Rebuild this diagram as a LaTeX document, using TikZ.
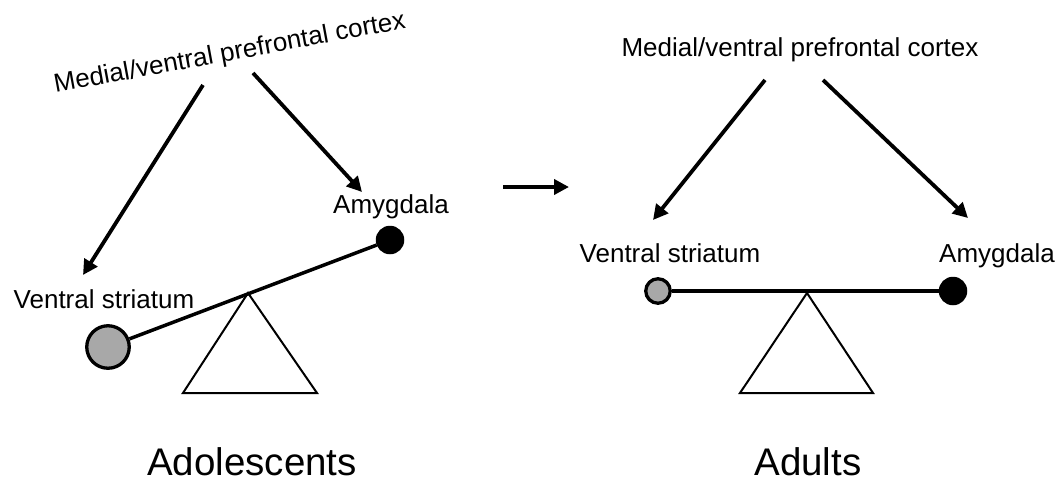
\documentclass[tikz,border=0pt]{standalone}
\usepackage{fontspec}
\setmainfont{Liberation Sans}
\usetikzlibrary{arrows.meta}
\begin{document}
\begin{tikzpicture}[x=1pt,y=-1pt,
  lbl/.style={inner sep=0pt,anchor=base,font=\fontsize{26}{30}\selectfont},
  big/.style={inner sep=0pt,anchor=base,font=\fontsize{38.5}{44}\selectfont},
  arr/.style={line width=3.8pt,-{Triangle[length=15pt,width=15pt]}},
  beam/.style={line width=3.5pt},
  fulcrum/.style={line width=2pt,line join=miter},
  blackball/.style={circle,fill=black,draw=black,line width=1.5pt,inner sep=0pt},
  grayball/.style={circle,fill=black!34,draw=black,line width=3.3pt,inner sep=0pt}]
\useasboundingbox (0,0) rectangle (1060,485);
% ---------- left: adolescents ----------
\node[lbl,rotate=10.46] (mpfcL) at (231,60.5) {Medial/ventral prefrontal cortex};
\node[lbl] (vsL) at (104,308) {Ventral striatum};
\node[lbl] (amL) at (391,213) {Amygdala};
\node[grayball,minimum size=42.5pt] (gL) at (108,347) {};
\node[blackball,minimum size=27pt] (bL) at (390,240) {};
\coordinate (pL) at (248,293);
\coordinate (s1) at (203,85);
\coordinate (e1) at (83,275);
\coordinate (s2) at (253,73);
\coordinate (e2) at (362,192);
\draw[arr] (s1) -- (e1);
\draw[arr] (s2) -- (e2);
\draw[fulcrum] (pL) -- (183,393) -- (317,393) -- cycle;
\draw[beam] (gL) -- (bL);
\node[big] (adol) at (252,475) {Adolescents};
% ---------- middle arrow ----------
\coordinate (m1) at (503,187);
\coordinate (m2) at (569,187);
\draw[arr] (m1) -- (m2);
% ---------- right: adults ----------
\node[lbl] (mpfcR) at (800,56) {Medial/ventral prefrontal cortex};
\node[lbl] (vsR) at (670,262) {Ventral striatum};
\node[lbl] (amR) at (997,262) {Amygdala};
\node[grayball,minimum size=24.5pt] (gR) at (658,291) {};
\node[blackball,minimum size=27pt] (bR) at (953,291) {};
\coordinate (pR) at (807,293);
\coordinate (s3) at (765,80);
\coordinate (e3) at (653,220);
\coordinate (s4) at (823,80);
\coordinate (e4) at (968,218);
\draw[arr] (s3) -- (e3);
\draw[arr] (s4) -- (e4);
\draw[fulcrum] (pR) -- (740,393) -- (873,393) -- cycle;
\draw[beam] (gR) -- (bR);
\node[big] (adul) at (808,475) {Adults};
\end{tikzpicture}
\end{document}
